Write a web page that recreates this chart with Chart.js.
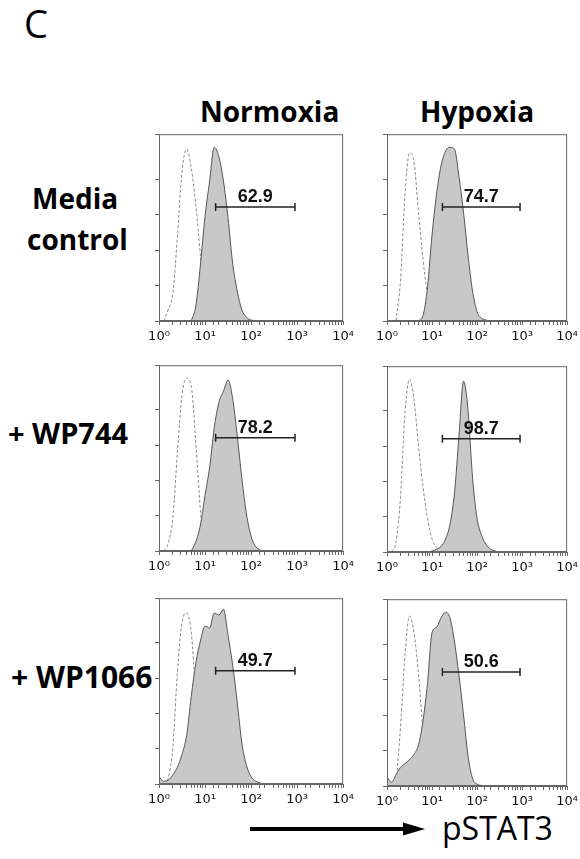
<!DOCTYPE html>
<html>
<head>
<meta charset="utf-8">
<script src="https://cdn.jsdelivr.net/npm/chart.js@4/dist/chart.umd.min.js"></script>
<style>
    body { margin: 0; background: #fff; }
    #fig { position: relative; width: 580px; height: 859px; overflow: hidden; }
    .t { position: absolute; line-height: 1; font-family: 'Open Sans', sans-serif; color: #000; white-space: nowrap; }
    .b { font-weight: 700; }
    .panel { position: absolute; }
</style>
</head>
<body>
<div id="fig">
    <div class="t" style="left:24px; top:4px; font-size:38px;">C</div>
    <div class="t b" style="left:200px; top:97px; font-size:28px;">Normoxia</div>
    <div class="t b" style="left:420px; top:97px; font-size:28px;">Hypoxia</div>
    <div class="t b" style="left:32px; top:184px; font-size:28px;">Media</div>
    <div class="t b" style="left:27px; top:225px; font-size:28px;">control</div>
    <div class="t b" style="left:8px; top:418px; font-size:29px;">+ WP744</div>
    <div class="t b" style="left:11px; top:662px; font-size:30px;">+ WP1066</div>
    <svg style="position:absolute; left:0; top:0;" width="580" height="859">
        <line x1="250" y1="829" x2="406" y2="829" stroke="#000" stroke-width="4"/>
        <polygon points="403,822.5 425,829 403,835.5" fill="#000"/>
    </svg>
    <div class="t" style="left:442px; top:812px; font-size:32px;">pSTAT3</div>
</div>

<script>
// bin centres on the pSTAT3 axis (10^0 ... 10^2.5)
const binX = [1, 1.26, 1.58, 2, 2.51, 3.16, 3.98, 5.01, 6.31, 7.94, 10, 12.6, 15.8, 20, 25.1, 31.6, 39.8, 50.1, 63.1, 79.4, 100, 126, 158, 200, 251, 316];
const _ = null;

// isotype control (dashed) and pSTAT3 (filled), % of max
const isoNormMedia   = [_, 0, 6, 15, 45, 80, 92, 82, 62, 35, 3, 0, _, _, _, _, _, _, _, _, _, _, _, _, _, _];
const pstatNormMedia = [_, _, _, _, _, _, _, 0, 8, 30, 56, 75, 93, 88, 75, 55, 31, 16, 6, 2, 0.5, 0, _, _, _, _];
const isoHypMedia    = [_, _, 0, 22, 68, 90, 85, 58, 33, 14, 2, 0, _, _, _, _, _, _, _, _, _, _, _, _, _, _];
const pstatHypMedia  = [_, _, _, _, _, _, _, 0, 3, 18, 46, 68, 83, 91, 93, 92, 77, 58, 35, 16, 5, 1.5, 0.5, 0, _, _];

const isoNormWP744   = [_, 0, 4, 18, 53, 84, 93, 89, 58, 22, 1, 0, _, _, _, _, _, _, _, _, _, _, _, _, _, _];
const pstatNormWP744 = [_, _, _, _, _, _, _, 0, 5, 14, 30, 45, 66, 80, 86, 92, 82, 62, 39, 20, 8, 2.5, 0.5, 0, _, _];
const isoHypWP744    = [_, 0, 5, 30, 75, 93, 82, 57, 35, 18, 7, 2.5, 0, _, _, _, _, _, _, _, _, _, _, _, _, _];
const pstatHypWP744  = [_, _, _, _, _, _, _, _, _, 0, 0.5, 1.5, 3, 7, 15, 32, 63, 92, 76, 40, 18, 9, 4, 1.5, 0.5, 0];

const isoNormWP1066   = [_, 0, 3, 20, 60, 87, 92, 82, 48, 20, 4, 0, _, _, _, _, _, _, _, _, _, _, _, _, _, _];
const pstatNormWP1066 = [4, 1.5, 2, 5, 9, 16, 26, 47, 65, 77, 85, 84, 92, 91, 94, 80, 64, 44, 22, 10, 4, 1.5, 0.5, 0, _, _];
const isoHypWP1066    = [_, _, 0, 32, 70, 91, 82, 60, 30, 10, 2, 0, _, _, _, _, _, _, _, _, _, _, _, _, _, _];
const pstatHypWP1066  = [5, 2, 6, 10, 12, 14, 17, 22, 35, 55, 82, 85, 90, 93, 90, 77, 59, 38, 16, 4, 1, 0.3, 0, _, _, _];

// gate marker (pSTAT3 positive) and its percentages
const gateRange = [17, 900];
const gateLevel = 61;
const gatePercents = ['62.9', '74.7', '78.2', '98.7', '49.7', '50.6'];

// decade labels of the log axis
const tickLabels = ['10\u2070', '10\u00b9', '10\u00b2', '10\u00b3', '10\u2074'];

// panel boxes (plot area in page pixels)
const panels = [
    { iso: isoNormMedia,   pstat: pstatNormMedia,   gate: 0, left: 159, top: 130, w: 185, h: 191 },
    { iso: isoHypMedia,    pstat: pstatHypMedia,    gate: 1, left: 387, top: 130, w: 181, h: 191 },
    { iso: isoNormWP744,   pstat: pstatNormWP744,   gate: 2, left: 159, top: 361, w: 185, h: 190 },
    { iso: isoHypWP744,    pstat: pstatHypWP744,    gate: 3, left: 387, top: 362, w: 181, h: 190 },
    { iso: isoNormWP1066,  pstat: pstatNormWP1066,  gate: 4, left: 159, top: 594, w: 185, h: 190 },
    { iso: isoHypWP1066,   pstat: pstatHypWP1066,   gate: 5, left: 387, top: 595, w: 181, h: 191 }
];

const PAD_L = 22, PAD_T = 6, PAD_R = 14, PAD_B = 30;

function toPoints(vals) {
    return binX.map((x, i) => ({ x: x, y: vals[i] }));
}

// frame around the plot area
const framePlugin = {
    id: 'frame',
    afterDraw(chart) {
        const a = chart.chartArea, ctx = chart.ctx;
        ctx.save();
        ctx.strokeStyle = '#666';
        ctx.lineWidth = 1;
        ctx.strokeRect(a.left + 0.5, a.top + 0.5, a.right - a.left - 1, a.bottom - a.top - 1);
        ctx.restore();
    }
};

// percentage written above the gate bar
const gateLabelPlugin = {
    id: 'gateLabel',
    afterDatasetsDraw(chart, args, opts) {
        const pts = chart.getDatasetMeta(0).data;
        if (!pts.length) return;
        const ctx = chart.ctx;
        ctx.save();
        ctx.fillStyle = '#111';
        ctx.font = 'bold 18px "Liberation Sans", Arial, sans-serif';
        ctx.textAlign = 'center';
        ctx.textBaseline = 'alphabetic';
        ctx.fillText(opts.text, (pts[0].x + pts[1].x) / 2, pts[0].y - 5);
        ctx.restore();
    }
};

const fig = document.getElementById('fig');

panels.forEach(p => {
    const wrap = document.createElement('div');
    wrap.className = 'panel';
    wrap.style.left = (p.left - PAD_L) + 'px';
    wrap.style.top = (p.top - PAD_T) + 'px';
    const canvas = document.createElement('canvas');
    canvas.width = p.w + PAD_L + PAD_R;
    canvas.height = p.h + PAD_T + PAD_B;
    canvas.style.width = canvas.width + 'px';
    canvas.style.height = canvas.height + 'px';
    wrap.appendChild(canvas);
    fig.appendChild(wrap);

    new Chart(canvas, {
        type: 'line',
        data: {
            datasets: [
                {
                    data: [{ x: gateRange[0], y: gateLevel }, { x: gateRange[1], y: gateLevel }],
                    borderColor: '#222',
                    borderWidth: 1.5,
                    pointStyle: 'line',
                    rotation: 90,
                    pointRadius: 4,
                    pointBorderColor: '#222',
                    pointBorderWidth: 1.5
                },
                {
                    data: toPoints(p.pstat),
                    borderColor: '#555',
                    borderWidth: 1,
                    backgroundColor: '#c8c8c8',
                    fill: 'origin',
                    pointRadius: 0,
                    cubicInterpolationMode: 'monotone'
                },
                {
                    data: toPoints(p.iso),
                    borderColor: '#8a8a8a',
                    borderWidth: 1,
                    borderDash: [3, 2],
                    fill: false,
                    pointRadius: 0,
                    cubicInterpolationMode: 'monotone'
                }
            ]
        },
        options: {
            responsive: false,
            animation: false,
            devicePixelRatio: 1,
            layout: { padding: { left: 0, top: PAD_T, right: PAD_R, bottom: 0 } },
            plugins: {
                legend: { display: false },
                tooltip: { enabled: false },
                gateLabel: { text: gatePercents[p.gate] }
            },
            scales: {
                x: {
                    type: 'logarithmic',
                    min: 1,
                    max: 10000,
                    afterFit(s) { s.height = PAD_B; },
                    grid: { drawOnChartArea: false, tickLength: 4, color: '#666' },
                    border: { color: '#666' },
                    ticks: {
                        autoSkip: false,
                        maxRotation: 0,
                        padding: 4,
                        color: '#111',
                        font: { family: 'DejaVu Sans', size: 13 },
                        callback(v) {
                            const e = Math.log10(v);
                            return Math.abs(e - Math.round(e)) < 1e-6 ? tickLabels[Math.round(e)] : '';
                        }
                    }
                },
                y: {
                    min: 0,
                    max: 100,
                    afterFit(s) { s.width = PAD_L; },
                    grid: { drawOnChartArea: false, tickLength: 4, color: '#666' },
                    border: { color: '#666' },
                    ticks: { stepSize: 19, callback: () => '' }
                }
            }
        },
        plugins: [framePlugin, gateLabelPlugin]
    });
});
</script>
</body>
</html>
